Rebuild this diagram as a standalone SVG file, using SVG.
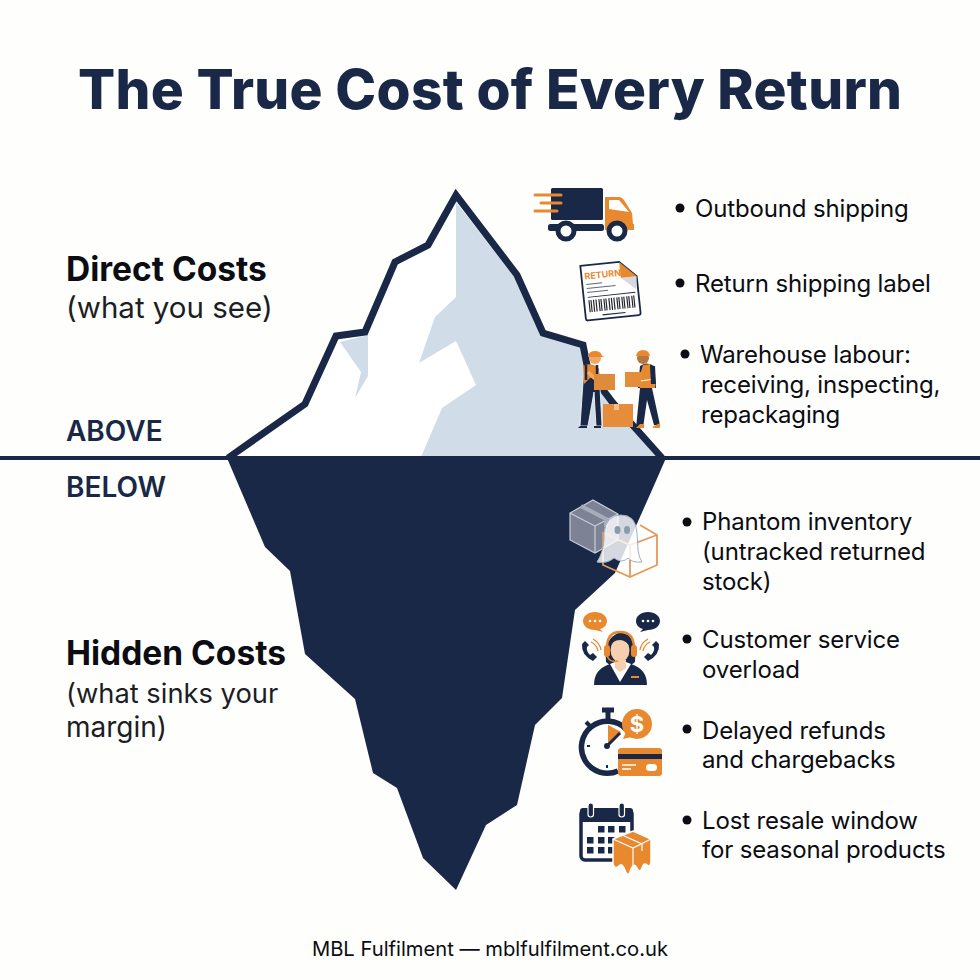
<svg xmlns="http://www.w3.org/2000/svg" width="980" height="980" viewBox="0 0 980 980">
<style>
text{font-family:Inter,"Liberation Sans",sans-serif;fill:#0b0d12}
.title{font-size:55px;font-weight:800;fill:#1a2847}
.h{font-size:33.500px;font-weight:700}
.s{font-size:28px;font-weight:400;fill:#1c1e24}
.lv{font-size:28px;font-weight:600;fill:#1a2847}
.t{font-size:24px;font-weight:400;letter-spacing:-.15px}
.f{font-size:20.200px;font-weight:400}
.n{fill:#1a2847}.o{fill:#e8892f}.w{fill:#fff}
</style>
<rect width="980" height="980" fill="#fefefd"/>
<text class="title" x="78" y="109" textLength="824" lengthAdjust="spacing">The True Cost of Every Return</text>

<g id="iceberg">
<polygon points="228,458 305,404 336,336 365,332 395,262 428,245 456,195 517,275 543,333 583,345 588,370 613,403 662,458" fill="#fff"/>
<polygon points="456,202 515,278 541,336 581,348 586,372 611,405 656,457 421,457 442,408 476,385 456,341 419,363 435,317 456,297" fill="#d0dce7"/>
<polygon points="340,342 368,335 368,376 355,398 361,372" fill="#d0dce7"/>
<polyline points="228,458 305,404 336,336 365,332 395,262 428,245 456,195 517,275 543,333 583,345 588,370 613,403 662,458" fill="none" stroke="#1a2847" stroke-width="7" stroke-linejoin="miter"/>
<polygon points="227,458 666,458 652,490 615,573 575,610 562,698 535,725 517,805 486,825 456,890 423,858 397,788 373,773 355,699 305,654 290,571 265,547" fill="#1a2847"/>
</g>
<g id="waterline"><rect x="0" y="456" width="980" height="4" fill="#1a2847"/></g>

<g id="label-direct">
<text class="h" x="66" y="281">Direct Costs</text>
<text class="s" x="66" y="318" style="font-size:29.500px">(what you see)</text>
</g>
<g id="label-above"><text class="lv" x="66" y="441">ABOVE</text></g>
<g id="label-below"><text class="lv" x="66" y="497">BELOW</text></g>
<g id="label-hidden">
<text class="h" x="66" y="665">Hidden Costs</text>
<text class="s" x="66" y="703" style="font-size:27.300px">(what sinks your</text>
<text class="s" x="66" y="737">margin)</text>
</g>

<g id="icon-truck">
<g stroke="#e8892f" stroke-width="3" stroke-linecap="round"><path d="M535 195H561M541 203H561M535 211H557"/></g>
<rect class="n" x="551" y="188" width="52" height="32" rx="1.500"/>
<g stroke="#e8892f" stroke-width="3" stroke-linecap="round"><path d="M551 195H561M551 203H561M551 211H557"/></g>
<rect class="n" x="548" y="224" width="56" height="7" rx="2.500"/>
<path class="o" d="M605 197H619Q622 197 624 200L632 213L633 224H634V230H605Z"/>
<path class="w" d="M609 200H619L629 212L609 209Z"/>
<circle cx="566" cy="231" r="8" fill="#fff" stroke="#1a2847" stroke-width="5"/>
<circle cx="617" cy="231" r="8" fill="#fff" stroke="#1a2847" stroke-width="5"/>
</g>

<g id="icon-label" transform="rotate(-6 610 290)">
<path d="M583 263H622L638 279V316Q638 318 636 318H585Q583 318 583 316Z" fill="#fff" stroke="#1a2847" stroke-width="1.800"/>
<path d="M622 279H638L636 292Z" fill="#d5d9e0"/>
<path class="o" d="M622 263L638 279H622Z"/>
<text x="586" y="277" font-size="9" font-weight="700" style="fill:#e8892f">RETURN</text>
<path d="M587 282H603M587 286H616M587 290H608" stroke="#5d6880" stroke-width="1"/>
<path d="M587 295H635" stroke="#1a2847" stroke-width="1"/>
<path d="M588 298V310M590 298V310M592.500 298V310M595 298V310M598 298V310M600 298V310M603 298V310M605 298V310M608 298V310M610.500 298V310M613 298V310M616 298V310M618 298V310M621 298V310M623 298V310M626 298V310M628 298V310M631 298V310M633 298V310" stroke="#23262e" stroke-width="1.200"/>
<path d="M600 314H623" stroke="#1a2847" stroke-width="1.200"/>
</g>

<g id="icon-workers">
<path class="n" d="M584 368L580 426H588L594 392L596 426H602L599 368Z" stroke="#fff" stroke-width=".8"/>
<path class="o" d="M583 366Q590 362 598 367L600 376L590 378L584 384Z"/>
<path d="M586 365V380M597 365V380" stroke="#1a2847" stroke-width="2.500"/>
<circle cx="595" cy="358" r="6" fill="#f0a868"/>
<path class="o" d="M588 356Q589 351 595 351Q601 351 602 356L605 357H588Z"/>
<path d="M588 372L594 378L600 380" stroke="#f0a868" stroke-width="3.500" fill="none"/>
<rect x="594" y="374" width="21" height="16" fill="#e08a3c"/>
<rect x="603" y="404" width="30" height="23" fill="#e58d3a"/>
<rect x="614" y="404" width="5" height="6" fill="#f4c08a"/>
<path class="n" d="M640 388L636 428H643L647 400L654 425H660L652 388Z"/>
<path class="n" d="M640 366Q647 361 654 366L656 388H638Z"/>
<path class="o" d="M643 365L650 364L651 372L655 384V388H640L639 378Z"/>
<path d="M640 381L655 379" stroke="#fff" stroke-width="1.200"/>
<path class="n" d="M650 366H655L656 384H651Z"/>
<circle cx="643" cy="358" r="6" fill="#b5763f"/>
<path class="o" d="M636 356Q637 350 643 350Q649 350 650 356H636Z"/>
<rect x="625" y="372" width="16" height="15" fill="#e58d3a"/>
<path class="o" d="M636 428H644V424L640 424ZM652 427L660 423V428L654 428Z"/>
<path class="n" d="M580 426H587V428H578ZM594 426H601V428H594Z"/>
</g>

<g id="icon-ghost">
<path d="M593 500L618 514V540L595 553L570 540V513Z" fill="#7d8395" stroke="#c9ced8" stroke-width="1.200"/>
<path d="M570 513L595 526V553M595 526L618 514" fill="none" stroke="#c9ced8" stroke-width="1.200"/>
<path d="M581 506L606 519V527" fill="none" stroke="#a8adba" stroke-width="4"/>
<path d="M640 525L657 535V565L630 577L603 565V533L630 545L657 535" fill="none" stroke="#e29a5b" stroke-width="1.800"/>
<path d="M630 545V577" stroke="#e29a5b" stroke-width="1.800"/>
<path d="M604 533Q606 515 621 515Q636 515 637 533L638 550Q639 558 642 562Q632 563 628 558Q622 564 614 558Q607 564 597 562Q603 553 604 540Z" fill="#fff" fill-opacity=".82" stroke="#9db0c6" stroke-width="1"/>
<ellipse cx="617.500" cy="530" rx="3" ry="4" fill="#8a9bb0"/>
<ellipse cx="627" cy="530" rx="3" ry="4" fill="#8a9bb0"/>
</g>

<g id="icon-agent">
<path class="o" d="M595 612C602 612 607 616 607 621C607 625 604 628 600 629L603 632L595 630C588 630 583 626 583 621C583 616 588 612 595 612Z"/>
<path class="n" d="M648 612C655 612 660 616 660 621C660 626 655 630 648 630L640 632L643 629C639 628 636 625 636 621C636 616 641 612 648 612Z"/>
<g class="w"><circle cx="590" cy="621" r="1.300"/><circle cx="595" cy="621" r="1.300"/><circle cx="600" cy="621" r="1.300"/><circle cx="643" cy="621" r="1.300"/><circle cx="648" cy="621" r="1.300"/><circle cx="653" cy="621" r="1.300"/></g>
<path d="M606 662Q604 635 620 634Q637 635 635 662L630 666H611Z" class="n"/>
<path class="n" d="M594 685Q594 669 610 664L620 668L631 664Q647 669 647 685Z"/>
<path class="w" d="M610 664L620 682L631 664L626 662H615Z"/>
<path d="M615 660H626V668L620 672L615 668Z" fill="#f6cfae"/>
<ellipse cx="620" cy="650" rx="9.500" ry="12" fill="#f6cfae"/>
<path class="n" d="M610 648Q612 640 620 640Q626 640 631 648L632 638Q626 632 618 633Q610 636 610 648Z"/>
<path d="M607 648Q607 632 620 632Q634 632 634 648" fill="none" stroke="#e8892f" stroke-width="2.500"/>
<rect class="o" x="604" y="645" width="6" height="12" rx="3"/>
<rect class="o" x="631" y="645" width="6" height="12" rx="3"/>
<path d="M607 656Q610 663 618 661" fill="none" stroke="#e8892f" stroke-width="1.500"/>
<rect class="o" x="631" y="676" width="8" height="2"/>
<path d="M582 644Q581 655 593 661L597 657L593 653L590 655Q586 651 587 647L589 645L585 641Z" class="n"/>
<path d="M659 644Q660 655 648 661L644 657L648 653L651 655Q655 651 654 647L652 645L656 641Z" class="n"/>
<path d="M591 642Q597 645 598 651M593 639Q600 643 601 650" fill="none" stroke="#e8892f" stroke-width="1.300"/>
<path d="M650 642Q644 645 643 651M648 639Q641 643 640 650" fill="none" stroke="#e8892f" stroke-width="1.300"/>
</g>

<g id="icon-refund">
<path d="M618 771A26 26 0 1 1 626 729" fill="none" stroke="#1a2847" stroke-width="5.500"/>
<path d="M608 720V711M602 710H614" stroke="#1a2847" stroke-width="5"/>
<path d="M586 722L591 727" stroke="#1a2847" stroke-width="4"/>
<polygon class="o" points="608,725 608,745 621,732"/>
<path d="M606 747L620 733" stroke="#1a2847" stroke-width="3"/>
<circle class="n" cx="607" cy="746" r="3"/>
<path d="M587 746H590M607 765V768" stroke="#1a2847" stroke-width="2"/>
<circle class="o" cx="637" cy="724" r="15"/>
<polygon class="o" points="626,732 623,739 632,737"/>
<text x="637" y="732" text-anchor="middle" font-size="22" font-weight="700" style="fill:#fff">$</text>
<rect class="o" x="618" y="748" width="44" height="28" rx="3"/>
<rect class="n" x="618" y="754" width="44" height="5"/>
<path d="M622 765H636M622 769H631" stroke="#fff" stroke-width="1.300"/>
<rect class="w" x="646" y="764" width="11" height="7" rx="3.500"/>
</g>

<g id="icon-calendar">
<rect x="581" y="810" width="51" height="50" rx="4" fill="#fff" stroke="#1a2847" stroke-width="3.500"/>
<path class="n" d="M583 808H630Q633 808 633 811V822H580V811Q580 808 583 808Z"/>
<rect x="588" y="803" width="5.500" height="14" rx="2.700" fill="#1a2847" stroke="#fff" stroke-width="1.200"/>
<rect x="619" y="803" width="5.500" height="14" rx="2.700" fill="#1a2847" stroke="#fff" stroke-width="1.200"/>
<g class="n">
<rect x="598" y="826" width="6.500" height="6.500"/><rect x="608" y="826" width="6.500" height="6.500"/><rect x="619" y="826" width="6.500" height="6.500"/>
<rect x="587" y="837" width="6.500" height="6.500"/><rect x="598" y="837" width="6.500" height="6.500"/><rect x="608" y="837" width="6.500" height="6.500"/>
<rect x="587" y="847" width="6.500" height="6.500"/><rect x="598" y="847" width="6.500" height="6.500"/><rect x="608" y="847" width="6.500" height="6.500"/>
</g>
<path class="o" d="M633 831L651 839V862Q650 868 647 865Q644 862 642 868Q640 874 637 868Q634 862 631 869Q628 879 625 870Q622 862 619 866Q615 870 613 864V839Z" stroke="#fff" stroke-width="1.500"/>
<path d="M613 839L633 848L651 839M633 848V866M622 835L642 844V851" fill="none" stroke="#fff" stroke-width="1.200"/>
</g>

<g id="item-1"><circle cx="680" cy="208" r="4.500" fill="#0b0d12"/><text class="t" x="695" y="217">Outbound shipping</text></g>
<g id="item-2"><circle cx="680" cy="283" r="4.500" fill="#0b0d12"/><text class="t" x="695" y="292">Return shipping label</text></g>
<g id="item-3"><circle cx="685" cy="354" r="4.500" fill="#0b0d12"/><text class="t" x="700" y="363">Warehouse labour:</text><text class="t" x="701" y="393">receiving, inspecting,</text><text class="t" x="701" y="423">repackaging</text></g>
<g id="item-4"><circle cx="687" cy="522" r="4.500" fill="#0b0d12"/><text class="t" x="702" y="530">Phantom inventory</text><text class="t" x="702" y="560">(untracked returned</text><text class="t" x="702" y="590">stock)</text></g>
<g id="item-5"><circle cx="687" cy="639" r="4.500" fill="#0b0d12"/><text class="t" x="702" y="648">Customer service</text><text class="t" x="702" y="678">overload</text></g>
<g id="item-6"><circle cx="687" cy="729" r="4.500" fill="#0b0d12"/><text class="t" x="702" y="739">Delayed refunds</text><text class="t" x="702" y="768">and chargebacks</text></g>
<g id="item-7"><circle cx="687" cy="820" r="4.500" fill="#0b0d12"/><text class="t" x="702" y="829">Lost resale window</text><text class="t" x="702" y="858">for seasonal products</text></g>

<g id="footer"><text class="f" x="490" y="956" text-anchor="middle">MBL Fulfilment — mblfulfilment.co.uk</text></g>
</svg>
